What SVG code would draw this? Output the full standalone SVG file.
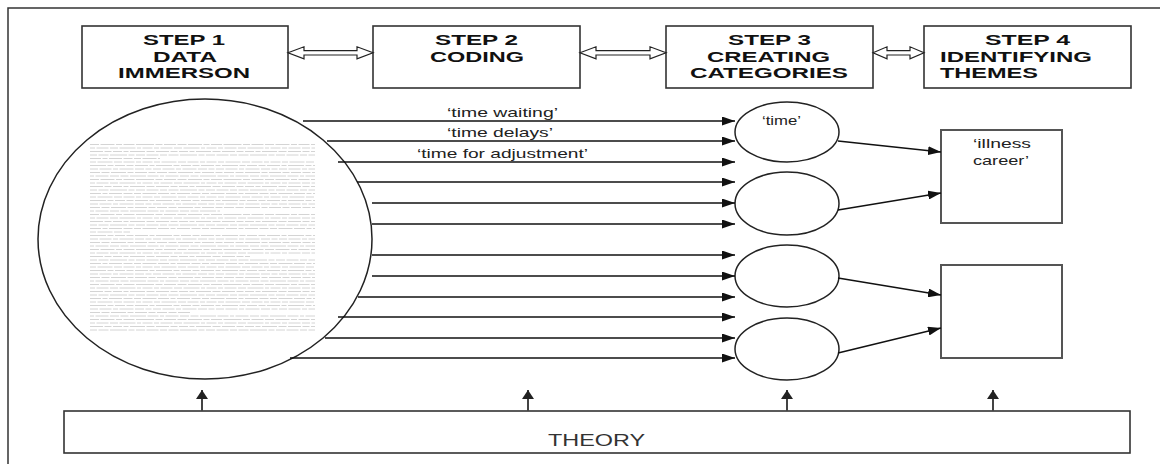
<svg xmlns="http://www.w3.org/2000/svg" width="1160" height="464" viewBox="0 0 1160 464">
  <style>
    .frame { fill: none; stroke: #333; stroke-width: 1.5; }
    .box { fill: #fff; stroke: #333; stroke-width: 1.6; }
    .theme { fill: #fff; stroke: #555; stroke-width: 2; }
    .oval { fill: #fff; stroke: #222; stroke-width: 1.5; }
    .step { font-family: "Liberation Sans", Arial, sans-serif; font-weight: bold; font-size: 14px; fill: #111; }
    .label { font-family: "Liberation Sans", Arial, sans-serif; font-size: 13px; fill: #222; }
    .theory { font-family: "Liberation Sans", Arial, sans-serif; font-size: 16px; fill: #333; }
    .link { stroke: #111; stroke-width: 1.4; fill: none; marker-end: url(#head); }
    .up { stroke: #444; stroke-width: 2; fill: none; marker-end: url(#uphead); }
    .dbl { fill: #fff; stroke: #222; stroke-width: 1.2; stroke-linejoin: miter; }
    .txt { stroke: #d4d4d4; stroke-width: 1; }
  </style>
  <defs>
    <marker id="head" markerUnits="userSpaceOnUse" markerWidth="13" markerHeight="9" refX="13" refY="4.5" orient="auto">
      <path d="M0,0 L13,4.5 L0,9 z" fill="#111"/>
    </marker>
    <marker id="uphead" markerUnits="userSpaceOnUse" markerWidth="9" markerHeight="12" refX="9" refY="6" orient="auto">
      <path d="M0,0 L9,6 L0,12 z" fill="#222"/>
    </marker>
    <!-- small grey print filling the transcript -->
    <pattern id="print" patternUnits="userSpaceOnUse" x="90" y="143" width="225" height="35">
      <line class="txt" x1="0" y1="1.5" x2="225" y2="1.5" stroke-dasharray="9 1.5 14 1.5 6 1.5 11 1.5 18 1.5 7 1.5 12 1.5"/>
      <line class="txt" x1="0" y1="5" x2="225" y2="5" stroke-dasharray="5 1.5 12 1.5 8 1.5 16 1.5 4 1.5 10 1.5"/>
      <line class="txt" x1="0" y1="8.5" x2="225" y2="8.5" stroke-dasharray="13 1.5 7 1.5 9 1.5 5 1.5 15 1.5 8 1.5"/>
      <line class="txt" x1="0" y1="12" x2="225" y2="12" stroke-dasharray="7 1.5 10 1.5 17 1.5 6 1.5 9 1.5 12 1.5"/>
      <line class="txt" x1="0" y1="15.5" x2="225" y2="15.5" stroke-dasharray="11 1.5 5 1.5 13 1.5 9 1.5 7 1.5 14 1.5"/>
      <line class="txt" x1="0" y1="19" x2="225" y2="19" stroke-dasharray="6 1.5 15 1.5 8 1.5 11 1.5 5 1.5 10 1.5"/>
      <line class="txt" x1="0" y1="22.5" x2="225" y2="22.5" stroke-dasharray="16 1.5 6 1.5 10 1.5 7 1.5 13 1.5 5 1.5"/>
      <line class="txt" x1="0" y1="26" x2="225" y2="26" stroke-dasharray="8 1.5 12 1.5 5 1.5 14 1.5 9 1.5 6 1.5"/>
      <line class="txt" x1="0" y1="29.5" x2="225" y2="29.5" stroke-dasharray="10 1.5 8 1.5 15 1.5 6 1.5 12 1.5 7 1.5"/>
      <line class="txt" x1="0" y1="33" x2="225" y2="33" stroke-dasharray="4 1.5 13 1.5 9 1.5 8 1.5 16 1.5 11 1.5"/>
    </pattern>
  </defs>

  <!-- page frame -->
  <path class="frame" d="M8,464 V8 H1160"/>

  <!-- step headers -->
  <g id="step1">
    <rect class="box" x="82" y="26" width="206" height="62"/>
    <text class="step" x="143" y="45" textLength="82" lengthAdjust="spacingAndGlyphs">STEP 1</text>
    <text class="step" x="153" y="62" textLength="64" lengthAdjust="spacingAndGlyphs">DATA</text>
    <text class="step" x="118" y="78" textLength="132" lengthAdjust="spacingAndGlyphs">IMMERSON</text>
  </g>
  <g id="step2">
    <rect class="box" x="373" y="26" width="207" height="62"/>
    <text class="step" x="435" y="45" textLength="83" lengthAdjust="spacingAndGlyphs">STEP 2</text>
    <text class="step" x="430" y="62" textLength="94" lengthAdjust="spacingAndGlyphs">CODING</text>
  </g>
  <g id="step3">
    <rect class="box" x="666" y="26" width="207" height="62"/>
    <text class="step" x="728" y="45" textLength="83" lengthAdjust="spacingAndGlyphs">STEP 3</text>
    <text class="step" x="707" y="62" textLength="123" lengthAdjust="spacingAndGlyphs">CREATING</text>
    <text class="step" x="690" y="78" textLength="158" lengthAdjust="spacingAndGlyphs">CATEGORIES</text>
  </g>
  <g id="step4">
    <rect class="box" x="924" y="26" width="207" height="62"/>
    <text class="step" x="985" y="45" textLength="85" lengthAdjust="spacingAndGlyphs">STEP 4</text>
    <text class="step" x="940" y="62" textLength="152" lengthAdjust="spacingAndGlyphs">IDENTIFYING</text>
    <text class="step" x="940" y="78" textLength="98" lengthAdjust="spacingAndGlyphs">THEMES</text>
  </g>

  <!-- raw data -->
  <g id="data">
    <ellipse class="oval" cx="205" cy="239" rx="167" ry="140"/>
    <rect x="90" y="143" width="225" height="190" fill="url(#print)"/>
    <!-- paragraph ends -->
    <g fill="#fff">
      <rect x="160" y="157" width="156" height="3"/>
      <rect x="220" y="210" width="96" height="3"/>
      <rect x="130" y="231" width="186" height="3"/>
      <rect x="250" y="255" width="66" height="3"/>
      <rect x="190" y="311" width="126" height="3"/>
    </g>
  </g>

  <!-- categories -->
  <g id="cat1">
    <ellipse class="oval" cx="787" cy="132" rx="52" ry="30"/>
    <text class="label" x="762" y="125" textLength="39" lengthAdjust="spacingAndGlyphs">‘time’</text>
  </g>
  <g id="cat2"><ellipse class="oval" cx="787" cy="203.5" rx="52" ry="31.5"/></g>
  <g id="cat3"><ellipse class="oval" cx="787" cy="276" rx="52" ry="31"/></g>
  <g id="cat4"><ellipse class="oval" cx="787" cy="349" rx="52" ry="31"/></g>

  <!-- themes -->
  <g id="theme1">
    <rect class="theme" x="941" y="130" width="121" height="93"/>
    <text class="label" x="973" y="148" textLength="58" lengthAdjust="spacingAndGlyphs">‘illness</text>
    <text class="label" x="973" y="165" textLength="56" lengthAdjust="spacingAndGlyphs">career’</text>
  </g>
  <g id="theme2">
    <rect class="theme" x="941" y="265" width="121" height="93"/>
  </g>

  <!-- theory -->
  <g id="theory">
    <rect class="box" x="64" y="411" width="1066" height="42"/>
    <text class="theory" x="548" y="446" textLength="97" lengthAdjust="spacingAndGlyphs">THEORY</text>
  </g>

  <!-- connectors -->
  <g id="connectors">
    <!-- step to step -->
    <polygon class="dbl" points="288,52.8 304,46.8 304,50.7 357,50.7 357,46.8 373,52.8 357,58.8 357,55 304,55 304,58.8"/>
    <polygon class="dbl" points="580,52.8 596,46.8 596,50.7 650,50.7 650,46.8 666,52.8 650,58.8 650,55 596,55 596,58.8"/>
    <polygon class="dbl" points="873,52.8 887,46.8 887,50.7 910,50.7 910,46.8 924,52.8 910,58.8 910,55 887,55 887,58.8"/>

    <!-- codes -->
    <line class="link" x1="303" y1="121" x2="735" y2="121"/>
    <line class="link" x1="327" y1="141" x2="735" y2="141"/>
    <line class="link" x1="338" y1="162" x2="735" y2="162"/>
    <line class="link" x1="357" y1="182" x2="735" y2="182"/>
    <line class="link" x1="372" y1="203" x2="735" y2="203"/>
    <line class="link" x1="372" y1="224" x2="735" y2="224"/>
    <line class="link" x1="372" y1="255" x2="735" y2="255"/>
    <line class="link" x1="372" y1="276" x2="735" y2="276"/>
    <line class="link" x1="358" y1="297" x2="735" y2="297"/>
    <line class="link" x1="338" y1="317" x2="735" y2="317"/>
    <line class="link" x1="325" y1="338" x2="735" y2="338"/>
    <line class="link" x1="290" y1="358" x2="735" y2="358"/>
    <text class="label" x="447" y="117" textLength="111" lengthAdjust="spacingAndGlyphs">‘time waiting’</text>
    <text class="label" x="447" y="137" textLength="106" lengthAdjust="spacingAndGlyphs">‘time delays’</text>
    <text class="label" x="417" y="158" textLength="171" lengthAdjust="spacingAndGlyphs">‘time for adjustment’</text>

    <!-- categories to themes -->
    <line class="link" x1="838" y1="141" x2="941" y2="152"/>
    <line class="link" x1="838" y1="210" x2="941" y2="193"/>
    <line class="link" x1="838" y1="278" x2="941" y2="295"/>
    <line class="link" x1="838" y1="353" x2="941" y2="328"/>

    <!-- theory feeding each step -->
    <line class="up" x1="202" y1="411" x2="202" y2="390"/>
    <line class="up" x1="528" y1="411" x2="528" y2="390"/>
    <line class="up" x1="787" y1="411" x2="787" y2="390"/>
    <line class="up" x1="993" y1="411" x2="993" y2="390"/>
  </g>
</svg>
